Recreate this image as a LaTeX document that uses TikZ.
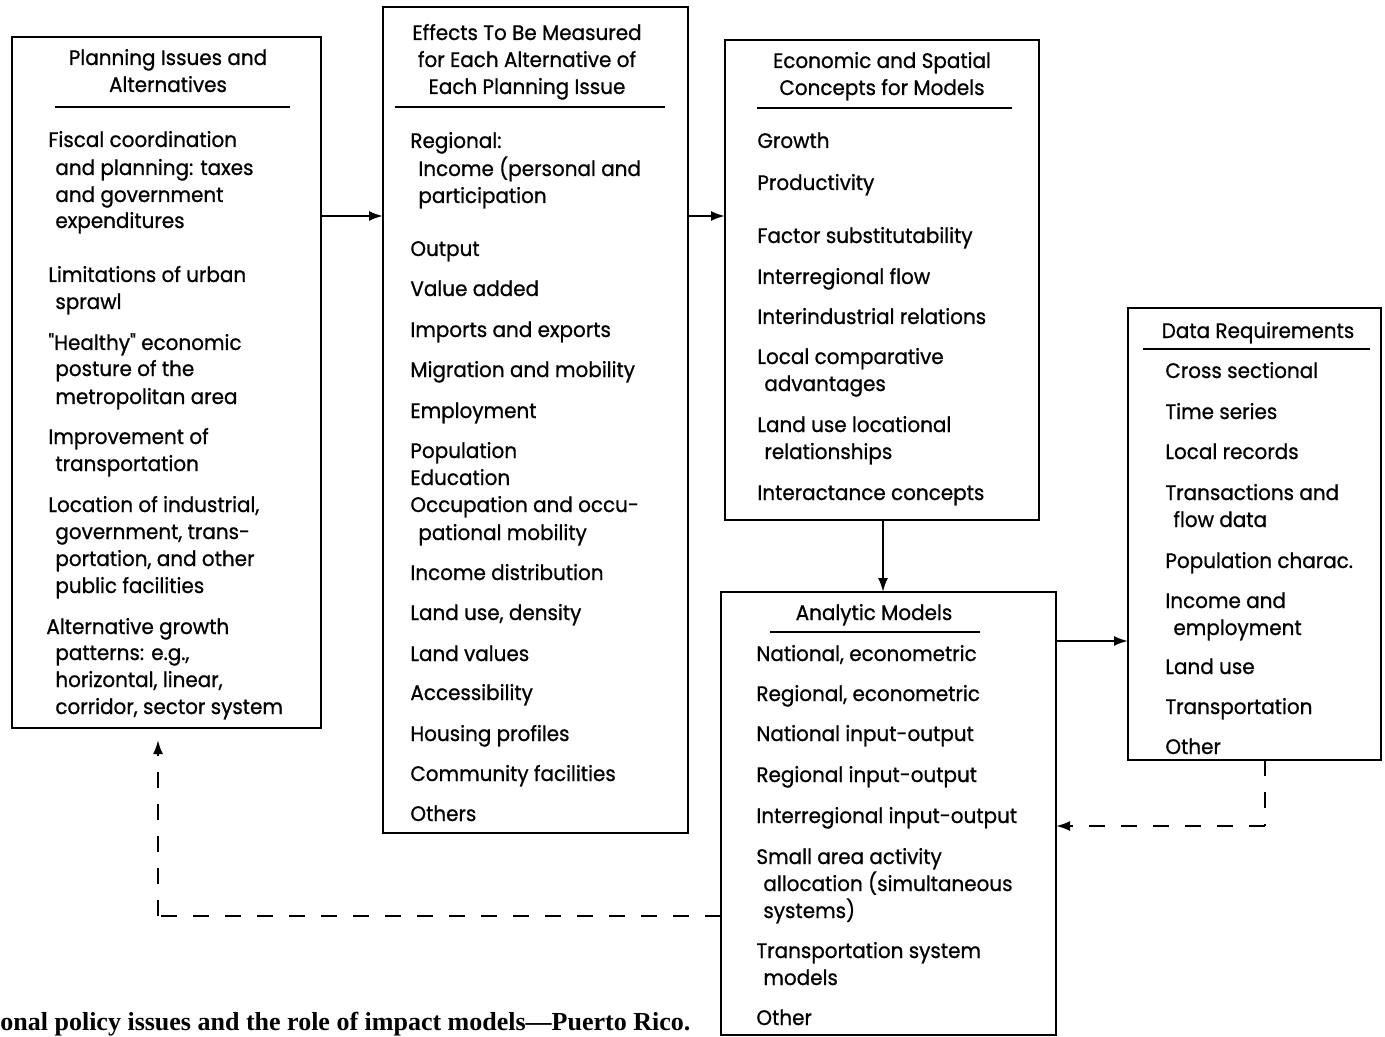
\documentclass[tikz,border=0pt]{standalone}
\usepackage{fontspec}
\setmainfont{Poppins}[FakeStretch=0.95, FakeBold=0.8, Ligatures=TeXOff]
\newfontfamily\capfont{Liberation Serif}
\usetikzlibrary{arrows.meta}
\tikzset{
  box/.style={draw, line width=1.2pt, inner sep=0pt, outer sep=0pt},
  txt/.style={inner sep=0pt, anchor=base west, font=\fontsize{10.5}{13}\selectfont},
  ttl/.style={inner sep=0pt, anchor=base, font=\fontsize{10.5}{13}\selectfont},
  uline/.style={line width=1.1pt},
  arr/.style={line width=1.1pt, -{Latex[length=7pt,width=5pt]}},
  dsh/.style={line width=1.1pt, dash pattern=on 8pt off 8pt},
  captxt/.style={inner sep=0pt, anchor=base west, font=\capfont\bfseries\fontsize{13}{15}\selectfont}
}
\begin{document}
\begin{tikzpicture}[x=0.5pt,y=-0.5pt]
\useasboundingbox (0,0) rectangle (1385,1037);
% boxes
\node[box, minimum width=154.5pt, minimum height=345.5pt] (b1) at (166.5,382.5) {};
\node[box, minimum width=152.5pt, minimum height=413pt] (b2) at (535.5,420) {};
\node[box, minimum width=157pt, minimum height=240pt] (b3) at (882,280) {};
\node[box, minimum width=126.5pt, minimum height=226pt] (b4) at (1254.5,534) {};
\node[box, minimum width=167.5pt, minimum height=221.5pt] (b5) at (888.5,813.5) {};
% underlines
\draw[uline] (55,107) -- (290,107);
\draw[uline] (395,107) -- (665,107);
\draw[uline] (757,108) -- (1012,108);
\draw[uline] (1143,349) -- (1370,349);
\draw[uline] (770,632) -- (980,632);
% titles
\foreach \x/\y/\t [count=\i] in {
  168/65/{Planning Issues and}, 168/92/{Alternatives},
  527/40/{Effects To Be Measured}, 527/67/{for Each Alternative of}, 527/94/{Each Planning Issue},
  882/68/{Economic and Spatial}, 882/95/{Concepts for Models},
  1258/338/{Data Requirements},
  874/620/{Analytic Models}}
  \node[ttl] (h\i) at (\x,\y) {\t};
% box 1
\foreach \x/\y/\t [count=\i] in {
  48/147/{Fiscal coordination}, 55/175/{and planning: taxes}, 55/202/{and government}, 55/228/{expenditures},
  48/282/{Limitations of urban}, 55/309/{sprawl},
  48/350/{"Healthy" economic}, 55/376/{posture of the}, 55/404/{metropolitan area},
  48/444/{Improvement of}, 55/471/{transportation},
  48/512/{Location of industrial,}, 55/539/{government, trans-}, 55/566/{portation, and other}, 55/593/{public facilities},
  46/634/{Alternative growth}, 55/660/{patterns: e.g.,}, 55/687/{horizontal, linear,}, 55/714/{corridor, sector system}}
  \node[txt] (a\i) at (\x,\y) {\t};
% box 2
\foreach \x/\y/\t [count=\i] in {
  410/148/{Regional:}, 418/176/{Income (personal and}, 418/203/{participation},
  410/256/{Output}, 410/296/{Value added}, 410/337/{Imports and exports},
  410/377/{Migration and mobility}, 410/418/{Employment}, 410/458/{Population},
  410/485/{Education}, 410/512/{Occupation and occu-}, 418/540/{pational mobility},
  410/580/{Income distribution}, 410/620/{Land use, density}, 410/661/{Land values},
  410/700/{Accessibility}, 410/741/{Housing profiles}, 410/781/{Community facilities},
  410/821/{Others}}
  \node[txt] (e\i) at (\x,\y) {\t};
% box 3
\foreach \x/\y/\t [count=\i] in {
  757/148/{Growth}, 757/190/{Productivity}, 757/243/{Factor substitutability},
  757/284/{Interregional flow}, 757/324/{Interindustrial relations},
  757/364/{Local comparative}, 764/391/{advantages},
  757/432/{Land use locational}, 764/459/{relationships},
  757/500/{Interactance concepts}}
  \node[txt] (c\i) at (\x,\y) {\t};
% box 4
\foreach \x/\y/\t [count=\i] in {
  1165/378/{Cross sectional}, 1165/419/{Time series}, 1165/459/{Local records},
  1165/500/{Transactions and}, 1173/527/{flow data},
  1165/568/{Population charac.}, 1165/608/{Income and}, 1173/635/{employment},
  1165/674/{Land use}, 1165/714/{Transportation}, 1165/754/{Other}}
  \node[txt] (d\i) at (\x,\y) {\t};
% box 5
\foreach \x/\y/\t [count=\i] in {
  756/661/{National, econometric}, 756/701/{Regional, econometric},
  756/741/{National input-output}, 756/782/{Regional input-output},
  756/823/{Interregional input-output},
  756/864/{Small area activity}, 763/891/{allocation (simultaneous}, 763/918/{systems)},
  756/958/{Transportation system}, 763/985/{models},
  756/1025/{Other}}
  \node[txt] (m\i) at (\x,\y) {\t};
% caption
\node[captxt] (caption) at (0,1030) {onal policy issues and the role of impact models—Puerto Rico.};
% connectors
\draw[arr] (b1.east |- 0,216) -- (b2.west |- 0,216);
\draw[arr] (b2.east |- 0,216) -- (b3.west |- 0,216);
\draw[arr] (b3.south -| 883,0) -- (b5.north -| 883,0);
\draw[arr] (b5.east |- 0,641) -- (b4.west |- 0,641);
\coordinate (k1) at (1265,826);
\draw[dsh] (b4.south -| k1) -- (k1);
\draw[dsh, -{Latex[length=7pt,width=5pt]}] (k1) -- (b5.east |- k1);
\coordinate (k2) at (158,916);
\draw[dsh] (b5.west |- k2) -- (k2);
\draw[dsh, -{Latex[length=7pt,width=5pt]}] (k2) -- ([yshift=-6pt]b1.south -| k2);
\end{tikzpicture}
\end{document}
